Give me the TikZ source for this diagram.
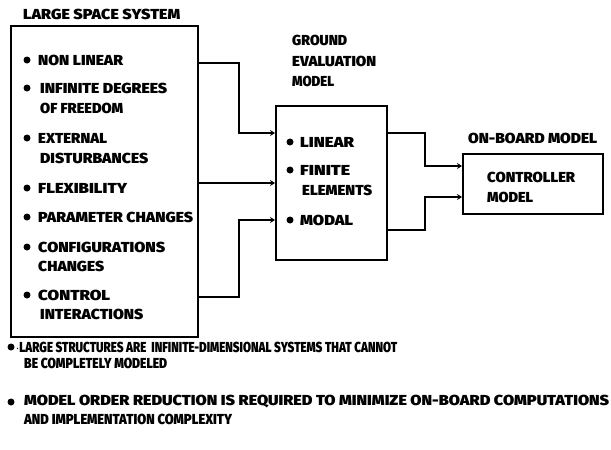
\documentclass[tikz,border=0pt]{standalone}
\usepackage{fontspec}
\setmainfont{Fira Sans Black}
\usepackage{graphicx}
\usetikzlibrary{calc,arrows.meta}
\newcommand{\fw}[2]{\resizebox{#1pt}{\height}{#2}}
\begin{document}
\begin{tikzpicture}[x=1pt,y=-1pt,
  every node/.style={inner sep=0pt,font=\fontsize{14.5}{16}\selectfont},
  lbl/.style={anchor=west},
  box/.style={draw,line width=2.2pt,anchor=north west},
  conn/.style={line width=2.3pt,-{Stealth[length=5pt,width=6pt]}},
  dot/.style={circle,fill,minimum size=7pt}]
\useasboundingbox (0,0) rectangle (611,450);
% left box
\node[box,minimum width=187pt,minimum height=311pt] (lss) at (10,25) {};
\node[lbl] (lsst) at (23,14) {\fw{157}{LARGE SPACE SYSTEM}};
\node[dot] (b1) at (27,60) {}; \node[lbl] (i1) at (38,60) {\fw{85}{NON LINEAR}};
\node[dot] (b2) at (27,88) {}; \node[lbl] (i2a) at (40,88) {\fw{127}{INFINITE DEGREES}};
\node[lbl] (i2b) at (40,108) {\fw{83}{OF FREEDOM}};
\node[dot] (b3) at (27,138) {}; \node[lbl] (i3a) at (38,138) {\fw{69}{EXTERNAL}};
\node[lbl] (i3b) at (40,158) {\fw{108}{DISTURBANCES}};
\node[dot] (b4) at (27,188) {}; \node[lbl] (i4) at (38,188) {\fw{89}{FLEXIBILITY}};
\node[dot] (b5) at (27,217) {}; \node[lbl] (i5) at (38,217) {\fw{155}{PARAMETER CHANGES}};
\node[dot] (b6) at (27,247) {}; \node[lbl] (i6a) at (38,247) {\fw{127}{CONFIGURATIONS}};
\node[lbl] (i6b) at (38,266) {\fw{66}{CHANGES}};
\node[dot] (b7) at (27,295) {}; \node[lbl] (i7a) at (38,295) {\fw{72}{CONTROL}};
\node[lbl] (i7b) at (40,314) {\fw{103}{INTERACTIONS}};
% middle box
\node[box,minimum width=111pt,minimum height=154pt] (gem) at (275,105) {};
\node[lbl] (gt1) at (292,40) {\fw{55}{GROUND}};
\node[lbl] (gt2) at (292,61) {\fw{84}{EVALUATION}};
\node[lbl] (gt3) at (292,81) {\fw{42}{MODEL}};
\node[dot] (m1) at (290,142) {}; \node[lbl] (gi1) at (300,142) {\fw{54}{LINEAR}};
\node[dot] (m2) at (290,170) {}; \node[lbl] (gi2a) at (300,170) {\fw{50}{FINITE}};
\node[lbl] (gi2b) at (302,190) {\fw{70}{ELEMENTS}};
\node[dot] (m3) at (290,220) {}; \node[lbl] (gi3) at (300,220) {\fw{53}{MODAL}};
% controller box
\node[box,minimum width=140pt,minimum height=60pt] (obm) at (462,153) {};
\node[lbl] (ot) at (468,138) {\fw{129}{ON-BOARD MODEL}};
\node[lbl] (oc1) at (487,177) {\fw{88}{CONTROLLER}};
\node[lbl] (oc2) at (487,197) {\fw{46}{MODEL}};
% connectors
\draw[conn] ([yshift=-38pt]lss.north east) -- ++(40,0) |- ([yshift=-28pt]gem.north west);
\draw[conn] ([yshift=-158pt]lss.north east) -- ([yshift=-78pt]gem.north west);
\draw[conn] ([yshift=-272pt]lss.north east) -- ++(40,0) |- ([yshift=-115pt]gem.north west);
\draw[conn] ([yshift=-28pt]gem.north east) -- ++(37,0) |- ([yshift=-13pt]obm.north west);
\draw[conn] ([yshift=-125pt]gem.north east) -- ++(37,0) |- ([yshift=-44pt]obm.north west);
% bottom notes
\node[dot] (n1) at (11,347) {};
\node[lbl] (n1a) at (16,347) {\fw{381}{$\cdot$LARGE STRUCTURES ARE\ \ INFINITE-DIMENSIONAL SYSTEMS THAT CANNOT}};
\node[lbl] (n1b) at (24,363) {\fw{143}{BE COMPLETELY MODELED}};
\node[dot] (n2) at (11,402) {};
\node[lbl] (n2a) at (24,402) {\fw{585}{MODEL ORDER REDUCTION IS REQUIRED TO MINIMIZE ON-BOARD COMPUTATIONS}};
\node[lbl] (n2b) at (24,419) {\fw{208}{AND IMPLEMENTATION COMPLEXITY}};
\end{tikzpicture}
\end{document}
